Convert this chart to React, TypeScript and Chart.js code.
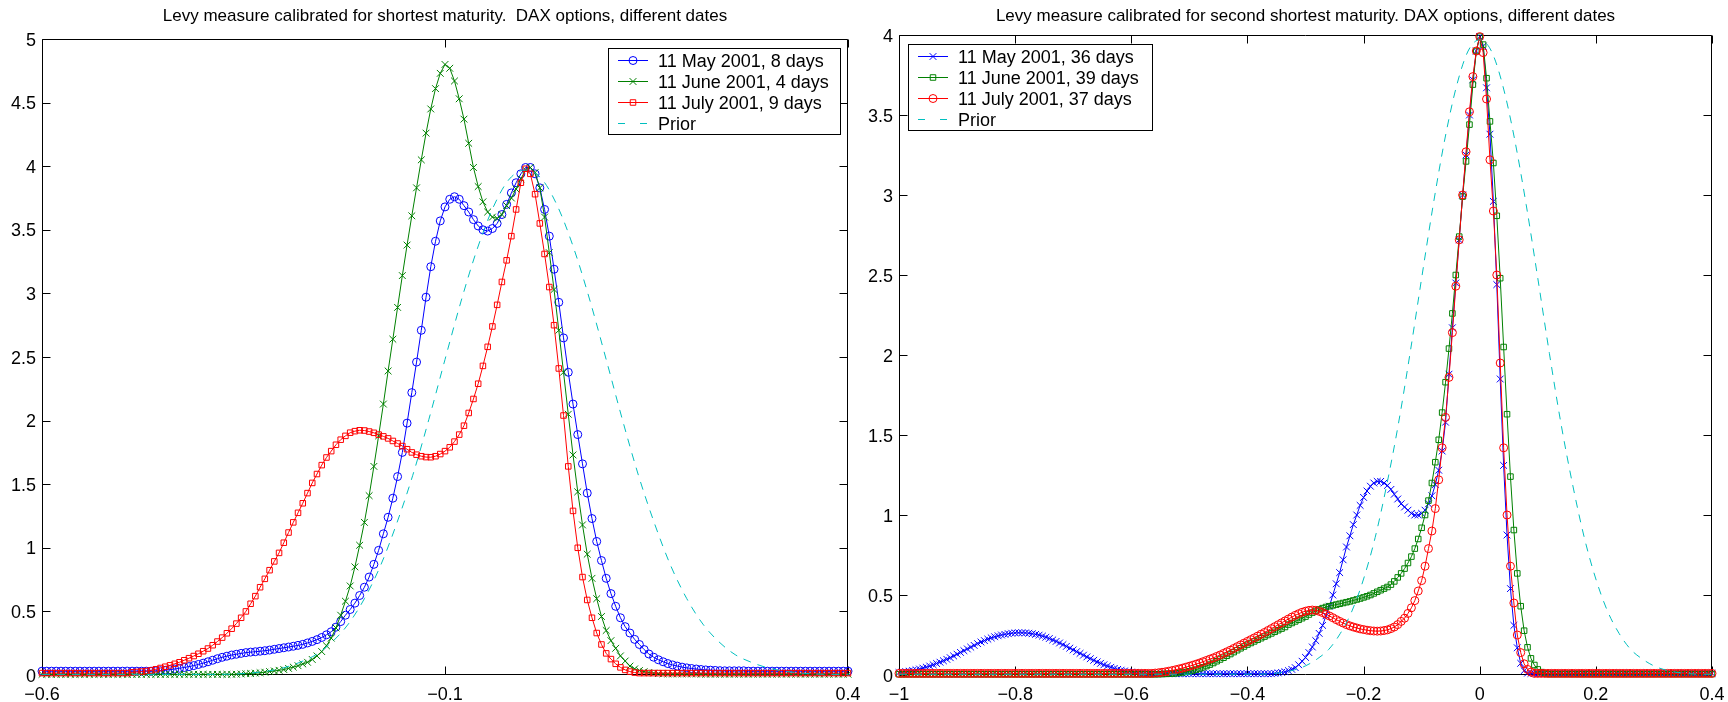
import { useEffect, useRef } from "react";
import { Chart, registerables } from "chart.js";

Chart.register(...registerables);

// ---------- text ----------
const LEFT_TITLE = "Levy measure calibrated for shortest maturity.  DAX options, different dates";
const RIGHT_TITLE = "Levy measure calibrated for second shortest maturity. DAX options, different dates";
const LEFT_LABELS = ["11 May 2001, 8 days", "11 June 2001, 4 days", "11 July 2001, 9 days", "Prior"];
const RIGHT_LABELS = ["11 May 2001, 36 days", "11 June 2001, 39 days", "11 July 2001, 37 days", "Prior"];

// ---------- ticks ----------
const LEFT_X_TICKS = [-0.6, -0.1, 0.4];
const LEFT_X_TICK_LABELS = ["\u22120.6", "\u22120.1", "0.4"];
const LEFT_Y_TICKS = [0, 0.5, 1, 1.5, 2, 2.5, 3, 3.5, 4, 4.5, 5];
const LEFT_Y_TICK_LABELS = ["0", "0.5", "1", "1.5", "2", "2.5", "3", "3.5", "4", "4.5", "5"];
const RIGHT_X_TICKS = [-1, -0.8, -0.6, -0.4, -0.2, 0, 0.2, 0.4];
const RIGHT_X_TICK_LABELS = ["\u22121", "\u22120.8", "\u22120.6", "\u22120.4", "\u22120.2", "0", "0.2", "0.4"];
const RIGHT_Y_TICKS = [0, 0.5, 1, 1.5, 2, 2.5, 3, 3.5, 4];
const RIGHT_Y_TICK_LABELS = ["0", "0.5", "1", "1.5", "2", "2.5", "3", "3.5", "4"];

// ---------- x grids (sampling of the curves) ----------
const GRID_STEP = 1 / 170;
const LEFT_X_START = -0.6;
const RIGHT_X_START = -1;
const PRIOR_STEP = 0.02;

// ---------- left panel series (x = -0.6 + k/170) ----------
const LEFT_BLUE = [
  .03,.03,.03,.03,.03,.03,.03,.03,.03,.03,
  .03,.03,.03,.03,.03,.03,.03,.03,.03,.03,
  .03,.03,.03,.03,.032,.034,.037,.042,.047,.053,
  .059,.066,.074,.083,.093,.104,.116,.128,.139,.148,
  .157,.163,.17,.176,.18,.183,.187,.191,.196,.202,
  .208,.214,.22,.226,.233,.241,.252,.264,.278,.295,
  .316,.34,.376,.42,.47,.515,.565,.625,.69,.77,
  .87,.98,1.11,1.24,1.39,1.56,1.75,1.98,2.22,2.46,
  2.71,2.97,3.21,3.41,3.57,3.68,3.74,3.76,3.74,3.69,
  3.64,3.58,3.53,3.5,3.49,3.51,3.55,3.62,3.7,3.79,
  3.87,3.94,3.99,3.99,3.94,3.83,3.66,3.45,3.19,2.93,
  2.65,2.38,2.13,1.89,1.66,1.43,1.23,1.05,.9,.76,
  .64,.54,.45,.38,.33,.28,.24,.2,.165,.14,
  .12,.104,.09,.079,.07,.062,.056,.051,.047,.043,
  .04,.038,.036,.034,.033,.033,.033,.033,.033,.03,
  .03,.03,.03,.03,.03,.03,.03,.03,.03,.03,
  .03,.03,.03,.03,.03,.03,.03,.03,.03,.03,
  .03,
];
const LEFT_GREEN = [
  .005,.005,.005,.005,.005,.005,.005,.005,.005,.005,
  .005,.005,.005,.005,.005,.005,.005,.005,.005,.005,
  .005,.005,.005,.005,.005,.005,.005,.005,.005,.005,
  .005,.005,.005,.005,.005,.005,.005,.005,.005,.005,
  .005,.006,.008,.01,.012,.015,.018,.022,.027,.032,
  .037,.043,.052,.062,.073,.087,.1,.122,.15,.184,
  .23,.29,.37,.47,.58,.7,.85,1.02,1.2,1.41,
  1.64,1.88,2.13,2.39,2.64,2.89,3.14,3.38,3.61,3.83,
  4.05,4.26,4.45,4.61,4.73,4.8,4.77,4.67,4.53,4.37,
  4.18,3.99,3.84,3.72,3.64,3.6,3.59,3.62,3.69,3.75,
  3.82,3.9,3.97,3.99,3.95,3.83,3.6,3.32,3.03,2.71,
  2.38,2.05,1.73,1.44,1.18,.95,.76,.6,.46,.35,
  .27,.21,.15,.11,.07,.048,.035,.026,.02,.015,
  .011,.009,.008,.008,.008,.008,.008,.008,.008,.006,
  .006,.006,.006,.006,.006,.006,.006,.006,.006,.006,
  .006,.006,.006,.006,.006,.006,.006,.006,.006,.006,
  .006,.006,.006,.006,.006,.006,.006,.006,.006,.006,
  .006,
];
const LEFT_RED = [
  .015,.015,.015,.015,.015,.015,.015,.015,.015,.015,
  .015,.015,.015,.015,.015,.015,.015,.015,.015,.021,
  .024,.027,.031,.036,.045,.055,.065,.076,.088,.1,
  .116,.132,.149,.167,.187,.208,.234,.263,.294,.328,
  .364,.404,.45,.5,.56,.62,.69,.756,.824,.893,
  .96,1.04,1.12,1.2,1.275,1.35,1.43,1.51,1.58,1.65,
  1.71,1.76,1.81,1.85,1.88,1.905,1.917,1.924,1.922,1.914,
  1.904,1.89,1.876,1.86,1.84,1.82,1.8,1.775,1.75,1.732,
  1.72,1.713,1.712,1.72,1.737,1.76,1.79,1.835,1.89,1.96,
  2.06,2.17,2.29,2.43,2.58,2.74,2.91,3.09,3.26,3.45,
  3.66,3.87,3.98,3.94,3.78,3.55,3.31,3.05,2.75,2.41,
  2.04,1.64,1.29,1.0,.77,.59,.45,.33,.24,.17,
  .125,.088,.06,.04,.027,.019,.015,.015,.015,.015,
  .015,.015,.015,.015,.015,.015,.015,.015,.015,.015,
  .015,.015,.015,.015,.015,.015,.015,.015,.015,.015,
  .015,.015,.015,.015,.015,.015,.015,.015,.015,.015,
  .015,.015,.015,.015,.015,.015,.015,.015,.015,.015,
  .015,
];
// prior, x = -0.6 + 0.02k
const LEFT_PRIOR = [
  .005,.005,.005,.005,.005,.005,.005,.005,.005,.005,.005,.005,
  .008,.016,.031,.057,.1,.16,.26,.4,
  .6,.86,1.19,1.57,2.01,2.48,2.94,3.35,3.68,3.9,
  3.97,
  3.9,3.68,3.35,2.94,2.48,2.01,1.57,1.19,.86,.6,
  .4,.26,.16,.1,.057,.031,.016,.008,.005,.005,
];

// ---------- right panel series (x = -1 + k/170) ----------
const RIGHT_BLUE = [
  .015,.018,.021,.024,.028,.032,.037,.043,.049,.056,
  .064,.072,.08,.089,.098,.108,.119,.13,.141,.152,
  .163,.174,.185,.196,.206,.215,.224,.232,.239,.245,
  .25,.254,.258,.261,.263,.264,.264,.263,.261,.258,
  .254,.249,.243,.236,.228,.219,.21,.2,.19,.179,
  .168,.157,.146,.135,.124,.113,.102,.092,.082,.073,
  .064,.056,.048,.041,.035,.03,.025,.021,.018,.015,
  .013,.012,.01,.009,.008,.008,.008,.008,.008,.008,
  .008,.008,.008,.008,.008,.008,.008,.008,.008,.008,
  .008,.008,.008,.008,.008,.008,.008,.008,.008,.008,
  .008,.008,.008,.008,.008,.008,.008,.008,.008,.008,
  .01,.013,.016,.02,.027,.035,.046,.064,.086,.11,
  .14,.175,.215,.26,.31,.37,.43,.5,.57,.64,
  .72,.8,.87,.94,1.0,1.06,1.11,1.15,1.18,1.2,
  1.21,1.21,1.2,1.185,1.16,1.13,1.1,1.07,1.05,1.03,
  1.01,1.0,1.0,1.01,1.03,1.07,1.12,1.19,1.28,1.4,
  1.58,1.88,2.17,2.45,2.72,3.0,3.25,3.5,3.72,3.9,
  3.99,3.93,3.67,3.38,2.96,2.44,1.85,1.31,.875,.54,
  .31,.17,.073,.027,.012,.01,.01,.01,.01,.01,
  .01,.01,.01,.01,.01,.01,.01,.01,.01,.01,
  .01,.01,.01,.01,.01,.01,.01,.01,.01,.01,
  .01,.01,.01,.01,.01,.01,.01,.01,.01,.01,
  .01,.01,.01,.01,.01,.01,.01,.01,.01,.01,
  .01,.01,.01,.01,.01,.01,.01,.01,.01,
];
const RIGHT_GREEN = [
  .005,.005,.005,.005,.005,.005,.005,.005,.005,.005,
  .005,.005,.005,.005,.005,.005,.005,.005,.005,.005,
  .005,.005,.005,.005,.005,.005,.005,.005,.005,.005,
  .005,.005,.005,.005,.005,.005,.005,.005,.005,.005,
  .005,.005,.005,.005,.005,.005,.005,.005,.005,.005,
  .005,.005,.005,.005,.005,.005,.005,.005,.005,.005,
  .005,.005,.005,.005,.005,.005,.005,.005,.005,.005,
  .005,.005,.005,.005,.005,.005,.005,.006,.007,.008,
  .009,.011,.013,.016,.019,.023,.028,.034,.041,.048,
  .056,.065,.075,.086,.097,.108,.12,.131,.143,.155,
  .167,.178,.19,.2,.21,.22,.23,.24,.25,.26,
  .27,.28,.29,.3,.315,.325,.335,.345,.355,.365,
  .378,.39,.4,.41,.418,.425,.43,.435,.44,.445,
  .45,.455,.46,.466,.472,.478,.485,.492,.5,.51,
  .52,.53,.54,.55,.565,.585,.61,.635,.665,.7,
  .74,.79,.85,.92,1.0,1.09,1.2,1.33,1.47,1.64,
  1.83,2.04,2.26,2.5,2.74,2.99,3.21,3.44,3.69,3.9,
  3.99,3.94,3.73,3.46,3.2,2.87,2.48,2.05,1.63,1.24,
  .906,.635,.43,.277,.173,.104,.0625,.035,.018,.01,
  .006,.006,.006,.006,.006,.006,.006,.006,.006,.006,
  .006,.006,.006,.006,.006,.006,.006,.006,.006,.006,
  .006,.006,.006,.006,.006,.006,.006,.006,.006,.006,
  .006,.006,.006,.006,.006,.006,.006,.006,.006,.006,
  .006,.006,.006,.006,.006,.006,.006,.006,.006,
];
const RIGHT_RED = [
  .01,.01,.01,.01,.01,.01,.01,.01,.01,.01,
  .01,.01,.01,.01,.01,.01,.01,.01,.01,.01,
  .01,.01,.01,.01,.01,.01,.01,.01,.01,.01,
  .01,.01,.01,.01,.01,.01,.01,.01,.01,.01,
  .01,.01,.01,.01,.01,.01,.01,.01,.01,.01,
  .01,.01,.01,.01,.01,.01,.01,.01,.01,.01,
  .01,.01,.01,.01,.01,.01,.01,.01,.01,.01,
  .01,.01,.01,.01,.01,.012,.014,.017,.02,.024,
  .028,.033,.038,.043,.049,.055,.061,.068,.075,.083,
  .091,.099,.107,.116,.125,.135,.145,.155,.166,.177,
  .188,.199,.21,.221,.232,.243,.255,.266,.278,.29,
  .302,.314,.326,.338,.35,.362,.373,.383,.392,.399,
  .404,.406,.404,.398,.39,.38,.369,.358,.346,.335,
  .325,.315,.307,.3,.294,.288,.284,.28,.277,.275,
  .274,.275,.278,.282,.29,.3,.315,.335,.355,.385,
  .42,.465,.525,.59,.68,.79,.9,1.04,1.22,1.42,
  1.61,1.86,2.14,2.43,2.72,3.0,3.27,3.52,3.74,3.9,
  3.99,3.89,3.6,3.22,2.9,2.5,1.95,1.42,1.0,.68,
  .45,.25,.14,.07,.035,.018,.01,.01,.01,.01,
  .01,.01,.01,.01,.01,.01,.01,.01,.01,.01,
  .01,.01,.01,.01,.01,.01,.01,.01,.01,.01,
  .01,.01,.01,.01,.01,.01,.01,.01,.01,.01,
  .01,.01,.01,.01,.01,.01,.01,.01,.01,.01,
  .01,.01,.01,.01,.01,.01,.01,.01,.01,
];
// prior, x = -1 + 0.02k
const RIGHT_PRIOR = [
  .005,.005,.005,.005,.005,.005,.005,.005,.005,.005,
  .005,.005,.005,.005,.005,.005,.005,.005,.005,.005,
  .005,.005,.005,.005,.005,.005,.005,.005,.005,.005,
  .005,.005,
  .008,.016,.031,.057,.1,.16,.26,.4,
  .6,.86,1.19,1.57,2.01,2.48,2.94,3.35,3.68,3.9,
  3.97,
  3.9,3.68,3.35,2.94,2.48,2.01,1.57,1.19,.86,.6,
  .4,.26,.16,.1,.057,.031,.016,.008,.005,.005,
];

// ---------- styling ----------
const BLUE = "#0000ff";
const GREEN = "#008000";
const RED = "#ff0000";
const CYAN = "#00bfbf";
const FONT = '18px "Liberation Sans", Arial, Helvetica, sans-serif';
const TITLE_FONT = '17px "Liberation Sans", Arial, Helvetica, sans-serif';
const MARKER_RADIUS: Record<string, number> = { circle: 4, crossRot: 4.8, rect: 3.9 };
const TITLE_BASELINE = 21;

type Series = { label: string; xs: number[]; ys: number[]; color: string; marker: string | null };
type PanelCfg = {
  title: string;
  xMin: number; xMax: number; yMax: number;
  xTicks: number[]; xTickLabels: string[];
  yTicks: number[]; yTickLabels: string[];
  series: Series[];
  legend: { x: number; y: number; w: number; h: number };
  padding: { left: number; right: number; top: number; bottom: number };
};

const gridX = (start: number, step: number, ys: number[]) => ys.map((_, k) => start + k * step);

function drawMarker(ctx: CanvasRenderingContext2D, style: string, x: number, y: number, r: number, color: string) {
  ctx.save();
  ctx.strokeStyle = color;
  ctx.lineWidth = 1;
  ctx.setLineDash([]);
  ctx.beginPath();
  const s = r * Math.SQRT1_2;
  if (style === "circle") ctx.arc(x, y, r, 0, Math.PI * 2);
  else if (style === "rect") ctx.rect(x - s, y - s, 2 * s, 2 * s);
  else if (style === "crossRot") {
    ctx.moveTo(x - s, y - s); ctx.lineTo(x + s, y + s);
    ctx.moveTo(x + s, y - s); ctx.lineTo(x - s, y + s);
  }
  ctx.stroke();
  ctx.restore();
}

function makeDecor(cfg: PanelCfg) {
  return {
    id: "matlabDecor",
    beforeDatasetsDraw(chart: any) {
      const ctx: CanvasRenderingContext2D = chart.ctx;
      const ca = chart.chartArea;
      const xs = chart.scales.x;
      const ys = chart.scales.y;
      const L = Math.round(ca.left) + 0.5;
      const R = Math.round(ca.right) - 0.5;
      const T = Math.round(ca.top) + 0.5;
      const B = Math.round(ca.bottom) - 0.5;
      ctx.save();
      ctx.strokeStyle = "#000";
      ctx.lineWidth = 1;
      ctx.beginPath();
      ctx.rect(L, T, R - L, B - T);
      const TL = 8;
      cfg.xTicks.forEach((v) => {
        const px = Math.round(xs.getPixelForValue(v)) + 0.5;
        ctx.moveTo(px, B); ctx.lineTo(px, B - TL);
        ctx.moveTo(px, T); ctx.lineTo(px, T + TL);
      });
      cfg.yTicks.forEach((v) => {
        const py = Math.round(ys.getPixelForValue(v)) + 0.5;
        ctx.moveTo(L, py); ctx.lineTo(L + TL, py);
        ctx.moveTo(R, py); ctx.lineTo(R - TL, py);
      });
      ctx.stroke();
      ctx.fillStyle = "#000";
      ctx.font = FONT;
      ctx.textBaseline = "alphabetic";
      ctx.textAlign = "center";
      cfg.xTicks.forEach((v, i) => {
        ctx.fillText(cfg.xTickLabels[i], xs.getPixelForValue(v), ca.bottom + 25);
      });
      ctx.textAlign = "right";
      cfg.yTicks.forEach((v, i) => {
        ctx.fillText(cfg.yTickLabels[i], ca.left - 6, ys.getPixelForValue(v) + 6.5);
      });
      ctx.textAlign = "center";
      ctx.font = TITLE_FONT;
      ctx.fillText(cfg.title, (ca.left + ca.right) / 2, TITLE_BASELINE);
      ctx.restore();
    },
    afterDatasetsDraw(chart: any) {
      const ctx: CanvasRenderingContext2D = chart.ctx;
      const lg = cfg.legend;
      ctx.save();
      ctx.fillStyle = "#fff";
      ctx.fillRect(lg.x, lg.y, lg.w, lg.h);
      ctx.strokeStyle = "#000";
      ctx.lineWidth = 1;
      ctx.strokeRect(lg.x + 0.5, lg.y + 0.5, lg.w, lg.h);
      cfg.series.forEach((s, i) => {
        const y = Math.round(lg.y + 12 + i * 20.9) + 0.5;
        ctx.strokeStyle = s.color;
        ctx.lineWidth = 1;
        ctx.beginPath();
        if (s.marker) {
          ctx.moveTo(lg.x + 10, y); ctx.lineTo(lg.x + 40, y);
        } else {
          ctx.moveTo(lg.x + 10, y); ctx.lineTo(lg.x + 17, y);
          ctx.moveTo(lg.x + 32, y); ctx.lineTo(lg.x + 39, y);
        }
        ctx.stroke();
        if (s.marker) drawMarker(ctx, s.marker, lg.x + 25, y, MARKER_RADIUS[s.marker], s.color);
        ctx.fillStyle = "#000";
        ctx.font = FONT;
        ctx.textAlign = "left";
        ctx.textBaseline = "alphabetic";
        ctx.fillText(s.label, lg.x + 50, y + 6.5);
      });
      ctx.restore();
    },
  };
}

function ChartPanel({ cfg, left }: { cfg: PanelCfg; left: number }) {
  const ref = useRef<HTMLCanvasElement | null>(null);
  useEffect(() => {
    if (!ref.current) return;
    const n = cfg.series.length;
    const datasets = cfg.series.map((s, i) => {
      const data = s.ys.map((y, k) => ({ x: s.xs[k], y }));
      if (s.marker) {
        const r = MARKER_RADIUS[s.marker];
        return {
          label: s.label,
          data,
          borderColor: s.color,
          backgroundColor: s.color,
          borderWidth: 1,
          pointStyle: s.marker,
          pointRadius: r,
          pointHoverRadius: r,
          pointBorderWidth: 1,
          pointBorderColor: s.color,
          pointBackgroundColor: "rgba(0,0,0,0)",
          tension: 0,
          fill: false,
          clip: false,
          order: n - i,
        };
      }
      return {
        label: s.label,
        data,
        borderColor: s.color,
        backgroundColor: s.color,
        borderWidth: 1,
        borderDash: [8, 7],
        pointRadius: 0,
        cubicInterpolationMode: "monotone",
        fill: false,
        clip: false,
        order: 0,
      };
    });
    const chart = new Chart(ref.current, {
      type: "line",
      data: { datasets } as any,
      options: {
        animation: false,
        responsive: false,
        maintainAspectRatio: false,
        devicePixelRatio: 1,
        layout: { padding: cfg.padding },
        scales: {
          x: { type: "linear", min: cfg.xMin, max: cfg.xMax, display: false },
          y: { type: "linear", min: 0, max: cfg.yMax, display: false },
        },
        plugins: { legend: { display: false }, tooltip: { enabled: false }, title: { display: false } },
        events: [],
      } as any,
      plugins: [makeDecor(cfg)],
    });
    return () => chart.destroy();
  }, [cfg]);
  return (
    <canvas
      ref={ref}
      width={864}
      height={702}
      style={{ position: "absolute", left, top: 0, width: 864, height: 702 }}
    />
  );
}

const LEFT_CFG: PanelCfg = {
  title: LEFT_TITLE,
  xMin: -0.6, xMax: 0.4, yMax: 5,
  xTicks: LEFT_X_TICKS, xTickLabels: LEFT_X_TICK_LABELS,
  yTicks: LEFT_Y_TICKS, yTickLabels: LEFT_Y_TICK_LABELS,
  series: [
    { label: LEFT_LABELS[0], xs: gridX(LEFT_X_START, GRID_STEP, LEFT_BLUE), ys: LEFT_BLUE, color: BLUE, marker: "circle" },
    { label: LEFT_LABELS[1], xs: gridX(LEFT_X_START, GRID_STEP, LEFT_GREEN), ys: LEFT_GREEN, color: GREEN, marker: "crossRot" },
    { label: LEFT_LABELS[2], xs: gridX(LEFT_X_START, GRID_STEP, LEFT_RED), ys: LEFT_RED, color: RED, marker: "rect" },
    { label: LEFT_LABELS[3], xs: gridX(LEFT_X_START, PRIOR_STEP, LEFT_PRIOR), ys: LEFT_PRIOR, color: CYAN, marker: null },
  ],
  legend: { x: 608, y: 48, w: 232, h: 86 },
  padding: { left: 42, right: 16, top: 39, bottom: 27 },
};

const RIGHT_CFG: PanelCfg = {
  title: RIGHT_TITLE,
  xMin: -1, xMax: 0.4, yMax: 4,
  xTicks: RIGHT_X_TICKS, xTickLabels: RIGHT_X_TICK_LABELS,
  yTicks: RIGHT_Y_TICKS, yTickLabels: RIGHT_Y_TICK_LABELS,
  series: [
    { label: RIGHT_LABELS[0], xs: gridX(RIGHT_X_START, GRID_STEP, RIGHT_BLUE), ys: RIGHT_BLUE, color: BLUE, marker: "crossRot" },
    { label: RIGHT_LABELS[1], xs: gridX(RIGHT_X_START, GRID_STEP, RIGHT_GREEN), ys: RIGHT_GREEN, color: GREEN, marker: "rect" },
    { label: RIGHT_LABELS[2], xs: gridX(RIGHT_X_START, GRID_STEP, RIGHT_RED), ys: RIGHT_RED, color: RED, marker: "circle" },
    { label: RIGHT_LABELS[3], xs: gridX(RIGHT_X_START, PRIOR_STEP, RIGHT_PRIOR), ys: RIGHT_PRIOR, color: CYAN, marker: null },
  ],
  legend: { x: 44, y: 44, w: 244, h: 86 },
  padding: { left: 35, right: 16, top: 35, bottom: 27 },
};

export default function App() {
  return (
    <div style={{ position: "absolute", left: 0, top: 0, width: 1728, height: 702, background: "#fff", overflow: "hidden" }}>
      <ChartPanel cfg={LEFT_CFG} left={0} />
      <ChartPanel cfg={RIGHT_CFG} left={864} />
    </div>
  );
}
